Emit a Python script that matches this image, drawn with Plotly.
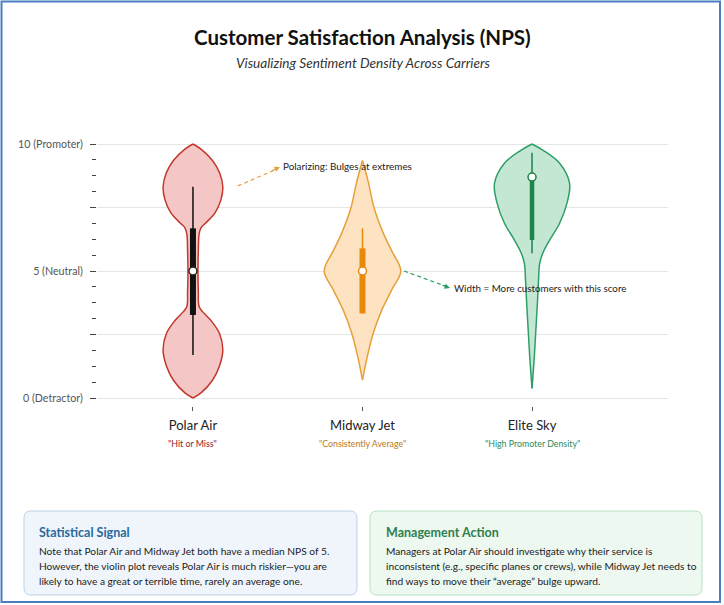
import plotly.graph_objects as go

# ---- data ----
carriers = ["Polar Air", "Midway Jet", "Elite Sky"]
taglines = ['"Hit or Miss"', '"Consistently Average"', '"High Promoter Density"']

# violin outlines: score level -> relative density (100 = widest violin)
polar_levels = [0, 0.2, 0.7, 1.25, 1.9, 2.55, 3.05, 3.4, 3.6, 4.2, 5.0, 5.8, 6.45, 6.7, 6.9, 7.3, 7.8, 8.3, 8.85, 9.35, 9.8, 10.0]
polar_density = [0, 21, 51, 69, 78, 69, 47, 25, 16, 14, 13, 14, 16, 21, 34, 58, 73, 78, 70, 51, 21, 0]

midway_levels = [0.7, 1.6, 2.55, 3.45, 4.25, 5.0, 5.8, 6.5, 7.5, 8.45, 9.35]
midway_density = [0, 12, 28, 50, 76, 100, 76, 54, 30, 16, 0]

elite_levels = [0.38, 1.63, 2.68, 3.73, 4.65, 5.3, 5.7, 6.22, 6.88, 7.66, 8.45, 9.24, 9.76, 10.0]
elite_density = [0, 6, 10, 14, 17, 20, 28, 46, 72, 91, 98, 72, 28, 0]

# inner box summaries
q1 = [3.27, 3.33, 6.22]
medians = [5.0, 5.0, 8.7]
q3 = [6.68, 5.89, 8.7]
lower_fence = [1.69, 3.33, 5.70]
upper_fence = [8.32, 6.68, 9.66]

y_tick_vals = [0, 2.5, 5, 7.5, 10]
y_tick_text = ["0 (Detractor)", "", "5 (Neutral)", "", "10 (Promoter)"]

signal_lines = [
    "Note that Polar Air and Midway Jet both have a median NPS of 5.",
    "However, the violin plot reveals Polar Air is much riskier\u2014you are",
    "likely to have a great or terrible time, rarely an average one.",
]
action_lines = [
    "Managers at Polar Air should investigate why their service is",
    "inconsistent (e.g., specific planes or crews), while Midway Jet needs to",
    "find ways to move their \u201caverage\u201d bulge upward.",
]

# ---- styling ----
FONT = "Lato, 'Open Sans', sans-serif"
fills = ["#F5C6C6", "#FDE3C2", "#C4E7D4"]
edges = ["#C0392B", "#E5A03A", "#2E9E66"]
box_colors = ["#111111", "#E8890C", "#1E8449"]
median_edges = ["#222222", "#E8890C", "#1E8449"]
tag_colors = ["#8B1E1E", "#B7791F", "#2E8B57"]
box_px = [6, 6, 4.5]
HALF = 0.226  # half width (x units) of a density of 100

# plot area in pixels, used to place the decorations
PL, PR, PT, PB = 97, 668, 136, 406


def px_x(px):
    return (px - PL) / (PR - PL)


def px_y(py):
    return (PB - py) / (PB - PT)


def rounded_box(x0, y0, x1, y1, r=7):
    pts = [
        ("M", x0 + r, y0), ("L", x1 - r, y0), ("Q", x1, y0, x1, y0 + r),
        ("L", x1, y1 - r), ("Q", x1, y1, x1 - r, y1), ("L", x0 + r, y1),
        ("Q", x0, y1, x0, y1 - r), ("L", x0, y0 + r), ("Q", x0, y0, x0 + r, y0),
    ]
    out = []
    for p in pts:
        cmd, vals = p[0], p[1:]
        coords = []
        for k in range(0, len(vals), 2):
            coords.append("%.5f,%.5f" % (px_x(vals[k]), px_y(vals[k + 1])))
        out.append(cmd + " ".join(coords))
    return " ".join(out) + " Z"


fig = go.Figure()

outlines = [(polar_levels, polar_density), (midway_levels, midway_density), (elite_levels, elite_density)]
for i, (lv, dens) in enumerate(outlines):
    fig.add_trace(go.Scatter(
        x=[i - d / 100 * HALF for d in dens], y=lv, mode="lines",
        line=dict(color=edges[i], width=1.5, shape="spline", smoothing=1),
        hoverinfo="skip", showlegend=False))
    fig.add_trace(go.Scatter(
        x=[i + d / 100 * HALF for d in dens], y=lv, mode="lines",
        fill="tonextx", fillcolor=fills[i],
        line=dict(color=edges[i], width=1.5, shape="spline", smoothing=1),
        hoverinfo="skip", showlegend=False))

# whiskers and inter-quartile bars
for i in range(len(carriers)):
    fig.add_trace(go.Scatter(
        x=[i, i], y=[lower_fence[i], upper_fence[i]], mode="lines",
        line=dict(color=box_colors[i], width=1.5),
        hoverinfo="skip", showlegend=False))
    fig.add_trace(go.Scatter(
        x=[i, i], y=[q1[i], q3[i]], mode="lines",
        line=dict(color=box_colors[i], width=box_px[i]),
        hoverinfo="skip", showlegend=False))

fig.add_trace(go.Scatter(
    x=list(range(len(carriers))), y=medians, mode="markers",
    marker=dict(size=8, color="white", line=dict(color=median_edges, width=1.5)),
    hoverinfo="skip", showlegend=False))

annotations = [
    dict(text="<b>Customer Satisfaction Analysis (NPS)</b>", x=px_x(362), y=px_y(37),
         font=dict(size=20.5, color="#111")),
    dict(text="<i>Visualizing Sentiment Density Across Carriers</i>", x=px_x(363), y=px_y(63),
         font=dict(size=13.6, color="#333")),
]
for i, tag in enumerate(taglines):
    annotations.append(dict(text=tag, x=i, xref="x", y=px_y(443), font=dict(size=8.8, color=tag_colors[i])))

# callouts
annotations.append(dict(text="Polarizing: Bulges at extremes", x=0.52, y=9.15, xref="x", yref="y",
                        xanchor="left", font=dict(size=9.9, color="#222")))
annotations.append(dict(text="Width = More customers with this score", x=1.53, y=4.33, xref="x", yref="y",
                        xanchor="left", font=dict(size=9.8, color="#222")))
annotations.append(dict(text="", x=0.513, y=9.09, xref="x", yref="y", showarrow=True, arrowhead=2,
                        arrowsize=0.9, arrowwidth=1.2, arrowcolor="#E0A040", ax=-9, ay=4))
annotations.append(dict(text="", x=1.516, y=4.33, xref="x", yref="y", showarrow=True, arrowhead=2,
                        arrowsize=0.9, arrowwidth=1.2, arrowcolor="#2E9E66", ax=-9, ay=-3.3))

# insight boxes
annotations.append(dict(text="<b>Statistical Signal</b>", x=px_x(37), y=px_y(532), xanchor="left",
                        font=dict(size=12.5, color="#2B6A9A")))
annotations.append(dict(text="<b>Management Action</b>", x=px_x(384), y=px_y(532), xanchor="left",
                        font=dict(size=12.5, color="#2D7F4F")))
for k, line in enumerate(signal_lines):
    annotations.append(dict(text=line, x=px_x(37), y=px_y(551 + 15 * k), xanchor="left",
                            font=dict(size=10.2, color="#222")))
for k, line in enumerate(action_lines):
    annotations.append(dict(text=line, x=px_x(384), y=px_y(551 + 15 * k), xanchor="left",
                            font=dict(size=10.2, color="#222")))

for a in annotations:
    a.setdefault("xref", "paper")
    a.setdefault("yref", "paper")
    a.setdefault("showarrow", False)
    a.setdefault("xanchor", "center")
    a.setdefault("yanchor", "middle")

shapes = [
    dict(type="line", xref="x", yref="y", x0=0.265, y0=8.35, x1=0.49, y1=9.0,
         line=dict(color="#E0A040", width=1.2, dash="4px,3px")),
    dict(type="line", xref="x", yref="y", x0=1.245, y0=5.0, x1=1.495, y1=4.39,
         line=dict(color="#2E9E66", width=1.2, dash="4px,3px")),
    dict(type="path", xref="paper", yref="paper", path=rounded_box(24, 511, 357, 595),
         fillcolor="#EFF5FB", line=dict(color="#BCD3E8", width=1), layer="below"),
    dict(type="path", xref="paper", yref="paper", path=rounded_box(370, 511, 702, 595),
         fillcolor="#ECF8F0", line=dict(color="#B4E2C4", width=1), layer="below"),
    dict(type="rect", xref="paper", yref="paper", x0=px_x(1.5), y0=px_y(1.5), x1=px_x(720), y1=px_y(602),
         line=dict(color="#4A7EBF", width=2), layer="below"),
]

fig.update_layout(
    width=724, height=605,
    margin=dict(l=PL, r=724 - PR, t=PT, b=605 - PB),
    paper_bgcolor="white", plot_bgcolor="white",
    font=dict(family=FONT, color="#333"),
    showlegend=False,
    annotations=annotations,
    shapes=shapes,
)
fig.update_xaxes(
    range=[-0.566, 2.802], tickvals=[0, 1, 2], ticktext=carriers,
    showgrid=False, zeroline=False, showline=False,
    ticks="outside", ticklen=4, tickcolor="#555",
    tickfont=dict(size=13, color="#222"), ticklabelstandoff=3,
)
fig.update_yaxes(
    range=[-0.315, 10.315], tickvals=y_tick_vals, ticktext=y_tick_text,
    showgrid=True, gridcolor="#E6E6E6", gridwidth=1, zeroline=False, showline=False,
    ticks="outside", ticklen=6, tickcolor="#444",
    tickfont=dict(size=10.7, color="#555"), ticklabelstandoff=5,
    minor=dict(dtick=0.625, tick0=0, ticks="outside", ticklen=4, tickcolor="#444", showgrid=False),
)

fig.write_html("out.html", config={"displayModeBar": False},
               post_script="document.body.style.margin='0';")
